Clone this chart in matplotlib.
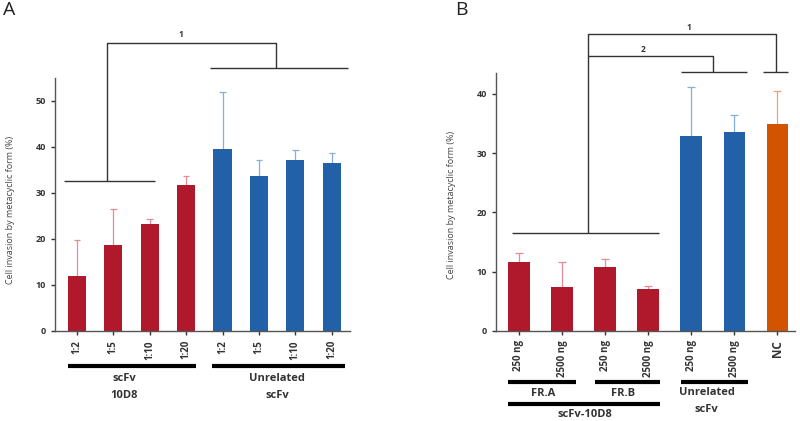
import numpy as np
import matplotlib.pyplot as plt

plt.rcParams['font.family'] = ['Open Sans', 'DejaVu Sans']

# panel A
a_labels = ['1:2', '1:5', '1:10', '1:20', '1:2', '1:5', '1:10', '1:20']
a_values = [12.0, 18.7, 23.2, 31.8, 39.5, 33.7, 37.1, 36.6]
a_err_top = [19.7, 26.5, 24.4, 33.8, 52.0, 37.2, 39.4, 38.7]
a_groups = ['red'] * 4 + ['blue'] * 4

# panel B
b_labels = ['250 ng', '2500 ng', '250 ng', '2500 ng', '250 ng', '2500 ng', 'NC']
b_values = [11.7, 7.5, 10.8, 7.0, 32.8, 33.6, 34.9]
b_err_top = [13.1, 11.7, 12.1, 7.6, 41.1, 36.5, 40.5]
b_groups = ['red'] * 4 + ['blue'] * 2 + ['orange']

fill = {'red': '#B0182B', 'blue': '#2261A8', 'orange': '#D35400'}
errc = {'red': '#E58A96', 'blue': '#86AEDC', 'orange': '#F0A070'}
dark = '#333333'


def draw_bars(ax, values, err_top, groups, labels, fs):
    x = np.arange(len(values))
    ax.bar(x, values, width=0.5, color=[fill[g] for g in groups], zorder=2)
    cols = [errc[g] for g in groups]
    # one-sided error bars: stem from bar top up to the error value, cap on top
    ax.vlines(x, values, err_top, colors=cols, lw=0.9, zorder=1)
    ax.hlines(err_top, x - 0.09, x + 0.09, colors=cols, lw=0.9, zorder=1)
    ax.set_xticks(x)
    ax.set_xticklabels(labels, rotation=90, fontsize=fs, fontweight='bold', color=dark)
    for s in ['top', 'right']:
        ax.spines[s].set_visible(False)
    for s in ['left', 'bottom']:
        ax.spines[s].set_color('#555555')
        ax.spines[s].set_linewidth(1.0)
    ax.tick_params(axis='both', direction='out', length=3, width=1, color=dark)
    ax.tick_params(axis='y', labelsize=6.5, labelcolor=dark)
    for t in ax.get_yticklabels():
        t.set_fontweight('bold')
    ax.set_ylabel('Cell invasion by metacyclic form (%)', fontsize=6.5, color='#444444')


def bracket_line(ax, xs, ys, lw=1.0):
    ax.plot(xs, ys, color='#333333', lw=lw, clip_on=False, solid_capstyle='butt')


def underline(ax, x0, x1, y):
    ax.plot([x0, x1], [y, y], color='black', lw=3, clip_on=False,
            transform=ax.get_xaxis_transform(), solid_capstyle='butt')


def group_text(ax, x, y, s, fs=8):
    ax.text(x, y, s, transform=ax.get_xaxis_transform(), ha='center', va='center',
            fontsize=fs, fontweight='bold', color=dark, linespacing=1.7)


fig = plt.figure(figsize=(8, 4.21), dpi=100)

axA = fig.add_axes([55 / 800, 90 / 421, 295 / 800, 253 / 421])
draw_bars(axA, a_values, a_err_top, a_groups, a_labels, 7)
axA.set_ylim(0, 55)
axA.set_xlim(-0.6, 7.5)
axA.set_yticks([0, 10, 20, 30, 40, 50])
axA.yaxis.set_label_coords(-0.135, 0.48)

bracket_line(axA, [-0.36, 2.14], [32.6, 32.6])
bracket_line(axA, [3.65, 7.44], [57.2, 57.2])
bracket_line(axA, [0.82, 0.82, 5.46, 5.46], [32.6, 62.6, 62.6, 57.2])
axA.text(2.85, 63.4, '1', ha='center', va='bottom', fontsize=6, fontweight='bold', color=dark)

underline(axA, -0.25, 3.27, -0.138)
underline(axA, 3.7, 7.36, -0.138)
group_text(axA, 1.3, -0.222, 'scFv\n10D8')
group_text(axA, 5.5, -0.222, 'Unrelated\nscFv')

axB = fig.add_axes([496 / 800, 90 / 421, 299 / 800, 258 / 421])
draw_bars(axB, b_values, b_err_top, b_groups, b_labels, 7)
axB.set_ylim(0, 43.5)
axB.set_xlim(-0.534, 6.41)
axB.set_yticks([0, 10, 20, 30, 40])
axB.get_xticklabels()[-1].set_fontsize(8.5)
axB.yaxis.set_label_coords(-0.135, 0.49)

bracket_line(axB, [-0.16, 3.25], [16.6, 16.6])
bracket_line(axB, [3.76, 5.29], [43.7, 43.7])
bracket_line(axB, [5.66, 6.24], [43.7, 43.7])
bracket_line(axB, [1.595, 1.595, 5.96, 5.96], [16.6, 50.0, 50.0, 43.7])
bracket_line(axB, [1.595, 4.51, 4.51], [46.3, 46.3, 43.7])
axB.text(3.95, 50.4, '1', ha='center', va='bottom', fontsize=6, fontweight='bold', color=dark)
axB.text(2.88, 46.7, '2', ha='center', va='bottom', fontsize=6, fontweight='bold', color=dark)

underline(axB, -0.255, 1.315, -0.1965)
underline(axB, 1.76, 3.27, -0.1965)
underline(axB, 3.76, 5.31, -0.1965)
underline(axB, -0.255, 3.27, -0.283)
group_text(axB, 0.56, -0.242, 'FR.A')
group_text(axB, 2.41, -0.242, 'FR.B')
group_text(axB, 4.36, -0.272, 'Unrelated\nscFv')
group_text(axB, 1.53, -0.322, 'scFv-10D8')

fig.text(3 / 800, 1 - 10 / 421, 'A', fontsize=14, va='center', ha='left', color='#222222')
fig.text(455 / 800, 1 - 10 / 421, 'B', fontsize=14, va='center', ha='left', color='#222222')

fig.savefig('out.png', dpi=100)
